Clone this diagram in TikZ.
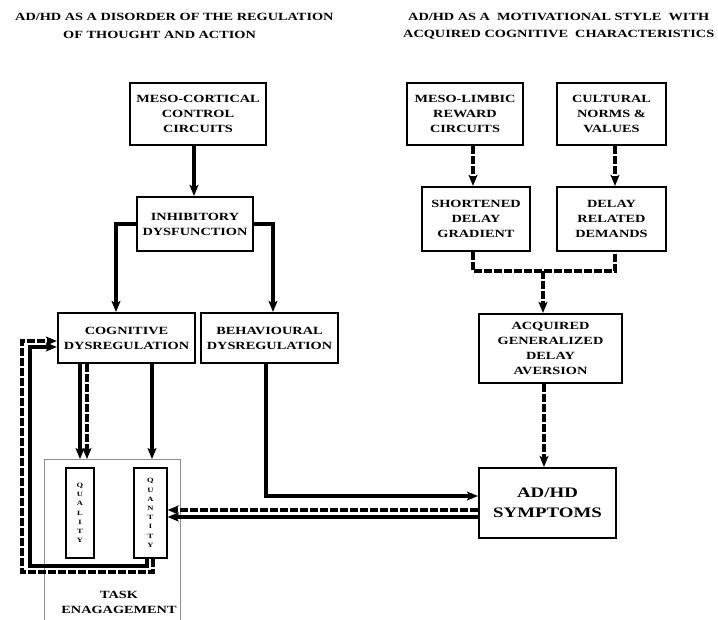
\documentclass[tikz,border=0pt]{standalone}
\usepackage{fontspec}
\setmainfont[FakeStretch=1.3]{Liberation Serif}
\usetikzlibrary{arrows.meta}
\begin{document}
\begin{tikzpicture}[x=1pt,y=-1pt,
  txt/.style={font=\bfseries\fontsize{11}{15}\selectfont, align=center, inner sep=0pt},
  box/.style={txt, draw, line width=2.2pt},
  slimbox/.style={draw, line width=1.3pt, align=center, inner sep=0pt,
    font=\bfseries\fontsize{6.5}{9.2}\selectfont},
  taskbox/.style={draw=black!45, line width=1.2pt, inner sep=0pt},
  tip/.style={-{Stealth[length=11pt,width=9pt,inset=2.5pt]}},
  sol/.style={line width=3.4pt},
  dsh/.style={line width=3.4pt, dash pattern=on 8pt off 2pt},
  solarr/.style={sol, tip},
  dsharr/.style={dsh, tip}]
\clip (0,0) rectangle (718,619);
\fill[white] (0,0) rectangle (718,619);

% headings
\node[txt, anchor=west] (tl1) at (15,17) {AD/HD AS A DISORDER OF THE REGULATION};
\node[txt, anchor=west] (tl2) at (63,35) {OF THOUGHT AND ACTION};
\node[txt, anchor=west] (tr1) at (408,17) {AD/HD AS A~ MOTIVATIONAL STYLE~ WITH};
\node[txt, anchor=west] (tr2) at (403,35) {ACQUIRED COGNITIVE~ CHARACTERISTICS};

% left branch: regulation of thought and action
\node[box, minimum width=136pt, minimum height=62pt] (mesoc) at (198,114) {MESO-CORTICAL\\CONTROL\\CIRCUITS};
\node[box, minimum width=116pt, minimum height=54pt] (inhib) at (195,224) {INHIBITORY\\DYSFUNCTION};
\node[box, minimum width=137pt, minimum height=50pt] (cogn) at (126.5,338) {COGNITIVE\\DYSREGULATION};
\node[box, minimum width=137pt, minimum height=50pt] (behav) at (269.5,338) {BEHAVIOURAL\\DYSREGULATION};

% task engagement
\node[taskbox, anchor=north west, minimum width=136pt, minimum height=190pt] (task) at (44,459) {};
\node[slimbox, minimum width=28pt, minimum height=90pt] (quality) at (80,513) {Q\\U\\A\\L\\I\\T\\Y};
\node[slimbox, minimum width=33pt, minimum height=90pt] (quantity) at (150.5,513) {Q\\U\\A\\N\\T\\I\\T\\Y};
\node[txt] (tasklbl) at (119,602) {TASK\\ENAGAGEMENT};

% right branch: motivational style
\node[box, minimum width=116pt, minimum height=62pt] (mesol) at (465,114) {MESO-LIMBIC\\REWARD\\CIRCUITS};
\node[box, minimum width=109pt, minimum height=62pt] (cult) at (611.5,114) {CULTURAL\\NORMS \&\\VALUES};
\node[box, minimum width=108pt, minimum height=64pt] (short) at (476,219) {SHORTENED\\DELAY\\GRADIENT};
\node[box, minimum width=109pt, minimum height=64pt] (delayrel) at (611.5,219) {DELAY\\RELATED\\DEMANDS};
\node[box, minimum width=143pt, minimum height=69pt] (acq) at (550.5,348.5) {ACQUIRED\\GENERALIZED\\DELAY\\AVERSION};
\node[box, minimum width=137pt, minimum height=70pt, font=\bfseries\fontsize{14.5}{20}\selectfont] (symptoms) at (547.5,503) {AD/HD\\SYMPTOMS};

% guide coordinates for connector positions
\coordinate (xmc) at (194,0);
\coordinate (xcl) at (116,0);
\coordinate (xbh) at (273,0);
\coordinate (xq1) at (80,0);
\coordinate (xq2) at (87,0);
\coordinate (xq3) at (152,0);
\coordinate (xbo) at (266,0);
\coordinate (ybo) at (0,496);
\coordinate (yfd) at (0,510);
\coordinate (yfs) at (0,517);
\coordinate (xfs) at (147,0);
\coordinate (fsb) at (30,566);
\coordinate (fst) at (30,347);
\coordinate (xfd) at (153,0);
\coordinate (fdb) at (22,572);
\coordinate (fdt) at (22,341);
\coordinate (xml) at (473,0);
\coordinate (xcu) at (615,0);
\coordinate (yj) at (0,271);
\coordinate (xj) at (543,0);
\coordinate (xac) at (544,0);

% left connectors
\draw[solarr] (mesoc.south -| xmc) -- (inhib.north -| xmc);
\draw[solarr] (inhib.west) -| (cogn.north -| xcl);
\draw[solarr] (inhib.east) -| (behav.north -| xbh);
\draw[solarr] (cogn.south -| xq1) -- (task.north -| xq1);
\draw[dsharr] (cogn.south -| xq2) -- (task.north -| xq2);
\draw[solarr] (cogn.south -| xq3) -- (task.north -| xq3);
\draw[solarr] (behav.south -| xbo) |- (symptoms.west |- ybo);
\draw[dsharr] (symptoms.west |- yfd) -- (quantity.east |- yfd);
\draw[solarr] (symptoms.west |- yfs) -- (quantity.east |- yfs);
\draw[solarr] (quantity.south -| xfs) |- (fsb) -- (fst) -- (cogn.west |- fst);
\draw[dsharr] (quantity.south -| xfd) |- (fdb) -- (fdt) -- (cogn.west |- fdt);

% right connectors
\draw[dsharr] (mesol.south -| xml) -- (short.north -| xml);
\draw[dsharr] (cult.south -| xcu) -- (delayrel.north -| xcu);
\draw[dsh] (short.south -| xml) -- (xml |- yj) -- (xcu |- yj) -- (delayrel.south -| xcu);
\draw[dsharr] (xj |- yj) -- (acq.north -| xj);
\draw[dsharr] (acq.south -| xac) -- (symptoms.north -| xac);
\end{tikzpicture}
\end{document}
